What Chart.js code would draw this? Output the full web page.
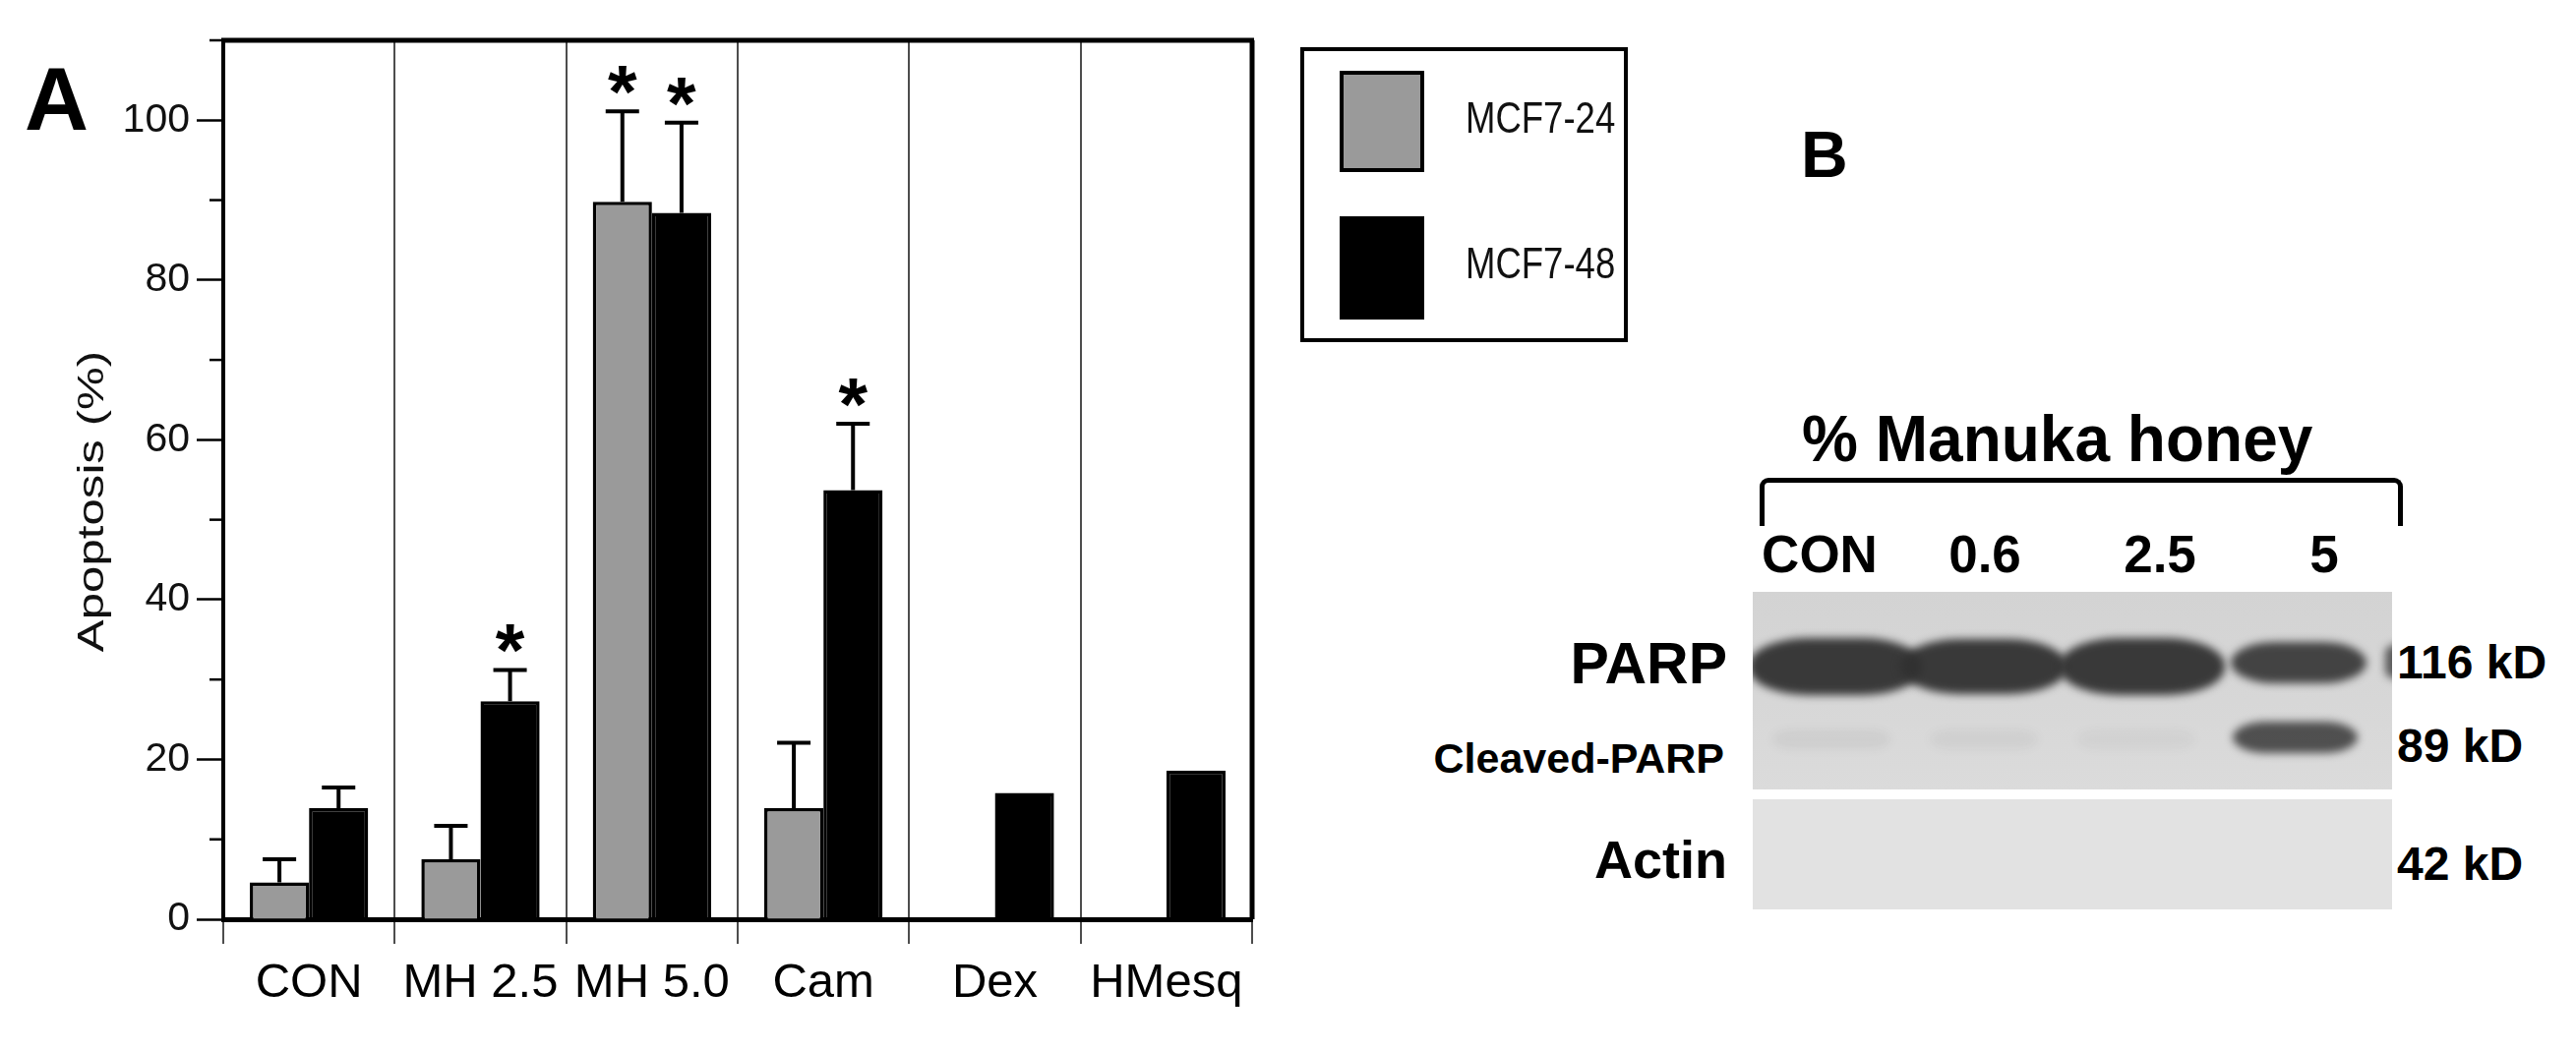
<!DOCTYPE html>
<html>
<head>
<meta charset="utf-8">
<title>Apoptosis and PARP cleavage</title>
<script src="https://cdn.jsdelivr.net/npm/chart.js@4.4.1/dist/chart.umd.min.js"></script>
<style>
  html, body { margin: 0; padding: 0; background: #fff; }
  #page { position: relative; width: 2619px; height: 1068px; overflow: hidden; background: #fff;
          font-family: "Liberation Sans", Arial, sans-serif; color: #000; }
  #chart-wrap { position: absolute; left: 0; top: 0; width: 1310px; height: 1068px; }
  .txt { position: absolute; line-height: 1; white-space: nowrap; }
  .bold { font-weight: bold; }

  /* legend box */
  #legend { position: absolute; left: 1322px; top: 48px; width: 325px; height: 292px; border: 4px solid #000; }
  .swatch { position: absolute; left: 36px; width: 86px; box-sizing: border-box; border: 4px solid #000; }
  .leg-label { position: absolute; left: 164px; font-size: 44px; line-height: 1; color: #111;
               white-space: nowrap; transform: scaleX(0.83); transform-origin: left top; }

  /* western blot */
  .blot { position: absolute; overflow: hidden; }
  #blot-top { left: 1782px; top: 602px; width: 650px; height: 201px;
              background: linear-gradient(#d3d3d3, #d7d7d7 55%, #dbdbdb); }
  #blot-bot { left: 1782px; top: 813px; width: 650px; height: 112px; background: #e2e2e2; }
  .band { position: absolute; border-radius: 60px / 28px; filter: blur(4px); }
  #bracket { position: absolute; left: 1789px; top: 486px; width: 644px; height: 44px;
             border: 5px solid #000; border-bottom: none; border-radius: 9px 9px 0 0; }
</style>
</head>
<body>
<div id="page">
  <div id="chart-wrap"><canvas id="bar-chart"></canvas></div>
  <div class="txt bold" style="left:25px; top:56px; font-size:90px;">A</div>

  <div id="legend"></div>

  <!-- Panel B -->
  <div class="txt bold" style="left:1831px; top:124px; font-size:66px;">B</div>
  <div class="txt bold" style="left:1832px; top:413px; font-size:66px; transform:scaleX(0.97); transform-origin:left top;">% Manuka honey</div>
  <div id="bracket"></div>
  <div id="lane-labels"></div>
  <div class="blot" id="blot-top"></div>
  <div class="blot" id="blot-bot"></div>
  <div class="txt bold" style="right:863px; top:646px; font-size:59px;">PARP</div>
  <div class="txt bold" style="right:866px; top:750px; font-size:43px;">Cleaved-PARP</div>
  <div class="txt bold" style="right:863px; top:847px; font-size:54px;">Actin</div>
  <div class="txt bold" style="left:2437px; top:650px; font-size:48px;">116 kD</div>
  <div class="txt bold" style="left:2437px; top:735px; font-size:48px;">89 kD</div>
  <div class="txt bold" style="left:2437px; top:855px; font-size:48px;">42 kD</div>
</div>

<script>
"use strict";

/* ─── Data (panel A) ─────────────────────────────────────────── */

const CATEGORIES = ["CON", "MH 2.5", "MH 5.0", "Cam", "Dex", "HMesq"];
const SERIES_NAMES = ["MCF7-24", "MCF7-48"];
const MCF7_24 = [4.6, 7.5, 89.8, 13.9, null, null];
const MCF7_48 = [13.9, 27.3, 88.4, 53.7, 15.8, 18.6];
const ERR_24 = [2.9, 4.2, 11.3, 8.2, null, null];
const ERR_48 = [2.6, 3.9, 11.3, 8.3, null, null];
const SIG_24 = [false, false, true, false, false, false];
const SIG_48 = [false, true, true, true, false, false];
const Y_LABELS = [0, 20, 40, 60, 80, 100];
const Y_TITLE = "Apoptosis (%)";

/* ─── Data (panel B, western blot) ──────────────────────────── */

const LANES = ["CON", "0.6", "2.5", "5"];
const LANE_CENTERS = [1850, 2018, 2196, 2363];
const PARP_BAND = [1, 1, 1, 0.93];
const CLEAVED_BAND = [0.06, 0.05, 0.04, 0.85];

const COLORS = ["#9a9a9a", "#000000"];
const FONT = "'Liberation Sans', Arial, sans-serif";

/* ─── Plugins ───────────────────────────────────────────────── */

/* Upward error bars and significance stars */
const errorBarPlugin = {
  id: "errorBars",
  afterDatasetsDraw: function (chart) {
    const ctx = chart.ctx;
    const yScale = chart.scales.y;
    chart.data.datasets.forEach(function (ds, i) {
      const meta = chart.getDatasetMeta(i);
      meta.data.forEach(function (bar, j) {
        const v = ds.data[j];
        if (v == null) return;
        let topY = bar.y;
        const e = ds.errors[j];
        if (e) {
          topY = yScale.getPixelForValue(v + e);
          ctx.save();
          ctx.strokeStyle = "#000";
          ctx.lineWidth = 4;
          ctx.beginPath();
          ctx.moveTo(bar.x, bar.y);
          ctx.lineTo(bar.x, topY);
          ctx.moveTo(bar.x - 17, topY);
          ctx.lineTo(bar.x + 17, topY);
          ctx.stroke();
          ctx.restore();
        }
        if (ds.stars[j]) {
          ctx.save();
          ctx.fillStyle = "#000";
          ctx.font = "bold 76px " + FONT;
          ctx.textAlign = "center";
          ctx.textBaseline = "alphabetic";
          ctx.fillText("*", bar.x, topY + 6);
          ctx.restore();
        }
      });
    });
  },
};

/* Top and right frame lines, short minor ticks, stretched y title */
const framePlugin = {
  id: "frame",
  afterDraw: function (chart) {
    const ctx = chart.ctx;
    const a = chart.chartArea;
    const y = chart.scales.y;
    ctx.save();
    ctx.strokeStyle = "#000";
    ctx.lineWidth = 5;
    ctx.beginPath();
    ctx.moveTo(a.left - 2, a.top);
    ctx.lineTo(a.right + 2, a.top);
    ctx.moveTo(a.right, a.top);
    ctx.lineTo(a.right, a.bottom);
    ctx.stroke();

    ctx.lineWidth = 2.5;
    y.ticks.forEach(function (t) {
      if (Y_LABELS.includes(t.value)) return;
      const py = y.getPixelForValue(t.value);
      ctx.beginPath();
      ctx.moveTo(a.left - 14, py);
      ctx.lineTo(a.left, py);
      ctx.stroke();
    });

    /* axis title, drawn wide like the original figure */
    ctx.translate(95, (a.top + a.bottom) / 2 + 22);
    ctx.rotate(-Math.PI / 2);
    ctx.scale(1.33, 1);
    ctx.fillStyle = "#111";
    ctx.font = "37px " + FONT;
    ctx.textAlign = "center";
    ctx.textBaseline = "middle";
    ctx.fillText(Y_TITLE, 0, 0);
    ctx.restore();
  },
};

/* ─── Chart ─────────────────────────────────────────────────── */

const chart = new Chart(document.getElementById("bar-chart"), {
  type: "bar",
  data: {
    labels: CATEGORIES,
    datasets: [
      {
        label: SERIES_NAMES[0],
        data: MCF7_24,
        errors: ERR_24,
        stars: SIG_24,
        backgroundColor: COLORS[0],
        borderColor: "#000",
        borderWidth: 3.5,
      },
      {
        label: SERIES_NAMES[1],
        data: MCF7_48,
        errors: ERR_48,
        stars: SIG_48,
        backgroundColor: COLORS[1],
        borderColor: "#000",
        borderWidth: 3.5,
      },
    ],
  },
  options: {
    responsive: true,
    maintainAspectRatio: false,
    animation: false,
    datasets: { bar: { barPercentage: 1, categoryPercentage: 0.69 } },
    layout: { padding: { top: 41, right: 37, left: 0, bottom: 0 } },
    plugins: { legend: { display: false }, tooltip: { enabled: false } },
    scales: {
      x: {
        grid: { offset: true, color: "#4d4d4d", lineWidth: 2, drawOnChartArea: true, drawTicks: true, tickLength: 25 },
        border: { display: true, color: "#000", width: 5 },
        ticks: { color: "#000", font: { family: FONT, size: 49 }, padding: 11, maxRotation: 0, autoSkip: false },
        afterFit: function (scale) { scale.height = 133; },
      },
      y: {
        min: 0,
        max: 110,
        ticks: {
          stepSize: 10,
          color: "#111",
          padding: 7,
          font: { family: FONT, size: 41 },
          callback: function (v) { return Y_LABELS.includes(v) ? String(v) : ""; },
        },
        grid: {
          drawOnChartArea: false,
          drawTicks: true,
          tickLength: 27,
          tickWidth: 2.5,
          tickColor: function (c) { return Y_LABELS.includes(c.tick.value) ? "#000" : "rgba(0,0,0,0)"; },
        },
        border: { display: true, color: "#000", width: 4 },
        afterFit: function (scale) { scale.width = 227; },
      },
    },
  },
  plugins: [errorBarPlugin, framePlugin],
});

/* ─── Legend (built from the datasets) ──────────────────────── */

function buildLegend() {
  const box = document.getElementById("legend");
  const swatchTops = [20, 168];
  const swatchHeights = [103, 105];
  const labelTops = [46, 194];
  chart.data.datasets.forEach(function (ds, i) {
    const sw = document.createElement("div");
    sw.className = "swatch";
    sw.style.top = swatchTops[i] + "px";
    sw.style.height = swatchHeights[i] + "px";
    sw.style.background = ds.backgroundColor;
    box.appendChild(sw);

    const lab = document.createElement("div");
    lab.className = "leg-label";
    lab.style.top = labelTops[i] + "px";
    lab.textContent = ds.label;
    box.appendChild(lab);
  });
}

/* ─── Western blot (panel B) ────────────────────────────────── */

function buildBlot() {
  const labels = document.getElementById("lane-labels");
  LANES.forEach(function (name, i) {
    const d = document.createElement("div");
    d.className = "txt bold";
    d.style.fontSize = "53px";
    d.style.top = "537px";
    d.style.left = (LANE_CENTERS[i] - 100) + "px";
    d.style.width = "200px";
    d.style.textAlign = "center";
    d.textContent = name;
    labels.appendChild(d);
  });

  const top = document.getElementById("blot-top");
  /* lane geometry relative to the blot panel */
  const parpLeft = [-4, 150, 312, 486, 643];
  const parpWidth = [176, 170, 168, 138, 40];
  const parpTop = [47, 48, 47, 51, 52];
  const parpHeight = [58, 56, 58, 42, 38];
  const parpLevels = PARP_BAND.concat([0.8]);
  parpLevels.forEach(function (lv, i) {
    const b = document.createElement("div");
    b.className = "band";
    b.style.left = parpLeft[i] + "px";
    b.style.width = parpWidth[i] + "px";
    b.style.top = parpTop[i] + "px";
    b.style.height = parpHeight[i] + "px";
    b.style.background = "rgba(48,48,48," + (0.95 * lv) + ")";
    top.appendChild(b);
  });

  const clLeft = [20, 180, 330, 488];
  const clWidth = [120, 110, 120, 127];
  CLEAVED_BAND.forEach(function (lv, i) {
    const b = document.createElement("div");
    b.className = "band";
    b.style.left = clLeft[i] + "px";
    b.style.width = clWidth[i] + "px";
    b.style.top = (i === 3 ? 132 : 140) + "px";
    b.style.height = (i === 3 ? 32 : 20) + "px";
    b.style.background = "rgba(55,55,55," + lv + ")";
    top.appendChild(b);
  });
}

buildLegend();
buildBlot();
</script>
</body>
</html>
